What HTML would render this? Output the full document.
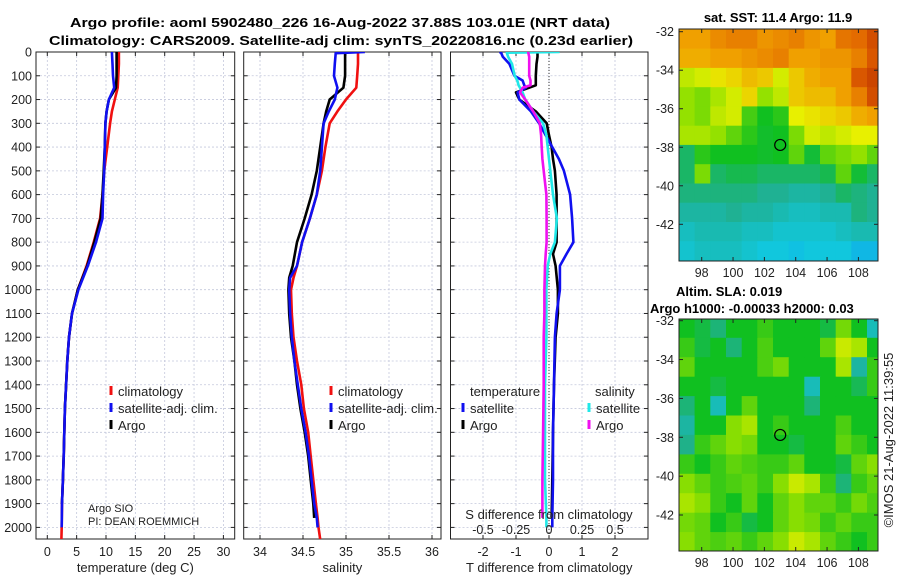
<!DOCTYPE html>
<html><head><meta charset="utf-8"><style>
html,body{margin:0;padding:0;background:#fff;}
svg{display:block;font-family:"Liberation Sans","DejaVu Sans",sans-serif;}
</style></head><body>
<svg id="fig" width="900" height="580" viewBox="0 0 900 580" xmlns="http://www.w3.org/2000/svg">
<defs>
<clipPath id="c1"><rect x="36" y="52" width="198" height="487"/></clipPath>
<clipPath id="c2"><rect x="244" y="52" width="197" height="487"/></clipPath>
<clipPath id="c3"><rect x="451" y="52" width="197" height="487"/></clipPath>
<clipPath id="cm1"><rect x="679" y="29" width="199" height="232"/></clipPath>
<clipPath id="cm2"><rect x="679" y="319" width="199" height="232"/></clipPath>
</defs>
<g>
<text x="340" y="27" font-size="13" font-weight="bold" text-anchor="middle" textLength="540" lengthAdjust="spacingAndGlyphs">Argo profile: aoml 5902480_226 16-Aug-2022 37.88S 103.01E (NRT data)</text>
<text x="341" y="45" font-size="13" font-weight="bold" text-anchor="middle" textLength="584" lengthAdjust="spacingAndGlyphs">Climatology: CARS2009. Satellite-adj clim: synTS_20220816.nc (0.23d earlier)</text>
</g>
<g id="layer"></g>
</svg>
<script>
// ---- data ----
const depthTicks = [0,100,200,300,400,500,600,700,800,900,1000,1100,1200,1300,1400,1500,1600,1700,1800,1900,2000];
const tempTicks = [0,5,10,15,20,25,30];
const salTicks = [34,34.5,35,35.5,36];
const salTickLabels = ["34","34.5","35","35.5","36"];
const tdiffTicks = [-2,-1,0,1,2];
const sdiffTicks = [-0.5,-0.25,0,0.25,0.5];
const sdiffTickLabels = ["-0.5","-0.25","0","0.25","0.5"];

const depthT = [0,50,100,150,200,250,300,400,500,600,700,800,900,1000,1100,1200,1300,1400,1500,1600,1700,1800,1900,2000,2050];
const climT = [12.2,12.2,12.1,12.0,11.5,11.0,10.7,10.2,9.7,9.4,9.0,7.9,6.7,5.2,4.2,3.7,3.4,3.2,3.0,2.9,2.8,2.65,2.5,2.45,2.4];
const satT  = [11.0,11.1,11.2,11.4,10.5,10.1,9.9,9.8,9.7,9.5,9.4,8.3,6.9,5.3,4.2,3.7,3.4,3.2,3.0,2.9,2.8,2.65,2.5,2.45];
const argoT = [11.8,11.8,11.8,11.7,10.5,10.1,9.9,9.8,9.6,9.4,9.1,8.0,6.8,5.2,4.2,3.7,3.4,3.2,3.0,2.9,2.8,2.65,2.5];

const depthS = [0,5,50,100,150,200,250,300,400,500,600,700,800,900,950,1000,1100,1200,1300,1400,1500,1600,1700,1800,1900,1960,2000,2050];
const climS = [35.14,35.14,35.14,35.13,35.12,35.0,34.9,34.81,34.76,34.72,34.66,34.58,34.49,34.43,34.39,34.36,34.37,34.39,34.43,34.48,34.51,34.56,34.59,34.62,34.65,34.67,34.68,34.7];
const satS  = [35.22,34.88,34.87,34.86,34.9,34.87,34.8,34.74,34.72,34.7,34.66,34.58,34.49,34.43,34.35,34.34,34.35,34.37,34.4,34.44,34.48,34.53,34.57,34.6,34.63,34.66,34.67];
const argoS = [34.99,34.99,34.99,34.99,34.97,34.81,34.77,34.74,34.70,34.66,34.60,34.52,34.43,34.38,34.34,34.33,34.34,34.36,34.40,34.43,34.47,34.52,34.56,34.59,34.62,34.63];

const depthD = [0,3,20,50,100,120,140,150,170,200,250,300,350,400,450,500,600,700,800,850,900,1000,1100,1200,1400,1600,1800,1960,2000];
const tdiffSat  = [-1.5,-1.45,-1.4,-1.2,-1.05,-0.8,-0.75,-0.7,-0.95,-0.9,-0.55,-0.3,-0.1,0.1,0.3,0.45,0.64,0.7,0.74,0.53,0.33,0.33,0.23,0.18,0.15,0.12,0.12,0.1,0.1];
const tdiffArgo = [-0.35,-0.35,-0.35,-0.38,-0.4,-0.4,-0.4,-0.6,-1.0,-0.9,-0.4,-0.07,0.0,0.08,0.12,0.18,0.23,0.23,0.23,0.12,0.2,0.27,0.27,0.2,0.15,0.12,0.1,0.08];
const sdiffSat  = [0.08,-0.32,-0.31,-0.28,-0.26,-0.24,-0.23,-0.22,-0.2,-0.18,-0.12,-0.045,-0.02,-0.01,0.0,0.01,0.03,0.06,0.045,0.01,-0.01,-0.02,-0.02,-0.02,-0.03,-0.03,-0.03,-0.02,-0.02];
const sdiffArgo = [-0.157,-0.157,-0.15,-0.15,-0.15,-0.14,-0.14,-0.2,-0.22,-0.18,-0.12,-0.07,-0.06,-0.055,-0.05,-0.04,-0.02,-0.018,-0.018,-0.025,-0.03,-0.035,-0.035,-0.04,-0.04,-0.045,-0.05,-0.05];

const mapLons = [97,98,99,100,101,102,103,104,105,106,107,108,109];
const mapLats = [-32,-33,-34,-35,-36,-37,-38,-39,-40,-41,-42,-43];
const sstGrid = [
[15.0,15.0,15.4,15.6,15.6,15.2,15.4,15.6,15.2,15.0,15.8,16.0,16.6],
[14.8,14.8,15.0,15.0,15.2,15.4,15.6,15.0,15.0,15.2,15.2,15.6,16.4],
[13.4,13.6,14.0,14.2,14.6,14.4,13.6,14.4,14.8,15.0,15.0,16.4,16.8],
[13.0,12.8,13.2,13.6,14.2,13.0,13.4,14.4,14.6,14.6,15.0,15.6,16.6],
[13.0,12.8,13.4,13.6,12.4,12.0,12.2,13.8,14.0,14.2,14.4,14.8,15.0],
[13.2,13.2,13.0,12.6,12.2,11.9,12.0,12.8,13.6,13.4,13.6,13.8,13.8],
[11.4,12.2,12.0,12.0,12.0,11.9,12.0,12.6,11.8,12.6,12.8,13.0,12.6],
[11.4,12.8,11.4,11.6,11.6,11.4,11.4,11.4,11.4,11.6,12.6,11.8,11.4],
[11.2,11.2,11.2,11.2,11.2,11.0,11.0,10.8,10.8,11.0,11.4,11.2,11.0],
[10.8,10.8,10.8,11.0,10.8,10.8,10.6,10.4,10.4,10.6,10.6,11.2,11.0],
[10.4,10.6,10.6,10.6,10.4,10.4,10.2,10.2,10.2,10.2,10.4,10.6,10.6],
[10.2,10.4,10.4,10.4,10.2,10.0,10.0,9.8,10.0,10.0,10.0,9.6,9.6]];
const slaGrid = [
[0,-0.02,-0.05,0,0,0.02,0,0,0,-0.02,0.05,0,-0.1],
[0.02,-0.02,0,-0.05,0,0.03,0,0,0,0.04,0.10,0.08,0],
[0.04,0,0,0,0,0.03,0.05,0,0,0,0.08,-0.08,0.02],
[0,0,-0.02,0,0,0,0,0,-0.1,0,0,-0.03,0.02],
[-0.05,0,-0.1,0,0.04,0,0,0,-0.05,0,0,0,0],
[-0.08,0,0,0.06,0.08,0,0.02,0,0,0,0.03,0,0],
[-0.06,0.02,0.04,0.06,0.05,0,0,-0.02,0,0,0.04,0.02,0],
[0.02,0,0.02,0.04,0.03,0.02,0.02,0.04,0,0,-0.02,0.04,0.06],
[0.06,0.04,0.02,0.03,0.04,0.02,0.06,0.10,0.08,0.02,-0.05,0.02,0.04],
[0.08,0.06,0.02,0.0,0.04,0,0.04,0.06,0.04,0.04,0.02,0.05,0.03],
[0.05,0.04,0.0,0.02,-0.02,0,0.04,0.06,0.05,0.02,0.04,0.02,0.02],
[0.06,0.04,0.03,0.04,0.02,0.04,0.06,0.10,0.08,0.04,0.02,0,0.02]];
const mapLonTicks = [98,100,102,104,106,108];
const mapLatTicks = [-32,-34,-36,-38,-40,-42];
const argoPos = [103.01,-37.88];

// ---- scales ----
const Y = d => 52 + d*0.2377;
const XT = v => 47.3 + v*5.87;
const XS = v => 260 + (v-34)*86;
const XD = v => 549 + v*33;
const XSD = v => 549 + v*132;
const M1X = lon => 701.7 + (lon-98)*15.67;
const M1Y = lat => 31.7 + (-32-lat)*19.26;
const M2Y = lat => 320.7 + (-32-lat)*19.43;

const NS = "http://www.w3.org/2000/svg";
const layer = document.getElementById('layer');
function mk(tag, attrs, parent){ const e=document.createElementNS(NS,tag); for(const k in attrs) e.setAttribute(k,attrs[k]); (parent||layer).appendChild(e); return e; }
function txt(x,y,s,size,anchor,parent){ const t=mk('text',{x:x,y:y,'font-size':size,'text-anchor':anchor||'middle',fill:'#222'},parent); t.textContent=s; return t; }

const stops=[[0,[0,48,192]],[0.2,[16,128,240]],[0.33,[16,200,224]],[0.42,[32,176,144]],[0.5,[16,192,32]],[0.58,[144,224,0]],[0.65,[232,240,0]],[0.75,[240,160,0]],[0.85,[224,96,0]],[1,[160,16,0]]];
function cmap(t){ t=Math.max(0,Math.min(1,t)); for(let i=1;i<stops.length;i++){ if(t<=stops[i][0]){ const a=stops[i-1],b=stops[i],f=(t-a[0])/(b[0]-a[0]); const c=a[1].map((v,j)=>Math.round(v+(b[1][j]-v)*f)); return 'rgb('+c.join(',')+')'; } } return 'rgb(160,16,0)'; }

function panel(name, x0, x1, clip, xticks, xlabels, xfn, xtitle){
  const g = mk('g',{});
  
  
  const grid = mk('g',{stroke:'#c4c8dc','stroke-width':0.8,'stroke-dasharray':'2,2'},g);
  
  
  depthTicks.forEach(d=>{ mk('line',{x1:x0,x2:x1,y1:Y(d),y2:Y(d)},grid); });
  xticks.forEach(v=>{ mk('line',{x1:xfn(v),x2:xfn(v),y1:52,y2:539},grid); });
  const ax = mk('g',{stroke:'#222','stroke-width':1},g);
  
  
  depthTicks.forEach(d=>{ mk('line',{x1:x0,x2:x0+4,y1:Y(d),y2:Y(d)},ax); mk('line',{x1:x1-4,x2:x1,y1:Y(d),y2:Y(d)},ax); });
  xticks.forEach(v=>{ mk('line',{x1:xfn(v),x2:xfn(v),y1:539,y2:535},ax); mk('line',{x1:xfn(v),x2:xfn(v),y1:52,y2:56},ax); });
  mk('rect',{x:x0,y:52,width:x1-x0,height:487,fill:'none'},ax);
  if(xlabels){ const tl=mk('g',{},g);  
    xticks.forEach((v,i)=>txt(xfn(v),556,xlabels[i],12.5,'middle',tl)); }
  if(xtitle){ const t=txt((x0+x1)/2,572,xtitle,13,'middle',g);   }
  const lines = mk('g',{'clip-path':'url(#'+clip+')',fill:'none','stroke-width':2.6,'stroke-linejoin':'round'},g);
  return lines;
}
function series(parent, name, depths, vals, xfn, color, w){
  const pts = vals.map((v,i)=>xfn(v).toFixed(1)+','+Y(depths[i]).toFixed(1)).join(' ');
  const p = mk('polyline',{points:pts,stroke:color,fill:'none','stroke-width':w||2.6},parent);
  
  
}
function legend(x, y, label, color, parent, nm){
  const g=mk('g',{},parent);
  
  
  mk('line',{x1:x,x2:x,y1:y-10,y2:y-1,stroke:color,'stroke-width':3},g);
  txt(x+7,y,label,13,'start',g);
}

// y-axis labels
const yl = mk('g',{});


depthTicks.forEach(d=>txt(32,Y(d)+4.5,String(d),12.5,'end',yl));

// Panel 1 temperature
const p1 = panel('temperature-panel',36,234.7,'c1',tempTicks,tempTicks.map(String),XT,'temperature (deg C)');
series(p1,'temp-climatology-line',depthT,climT,XT,'#f01010');
series(p1,'temp-argo-line',depthT,argoT,XT,'#000');
series(p1,'temp-satellite-line',depthT,satT,XT,'#1010f0');
legend(111,396,'climatology','#f01010',layer,'legend-climatology');
legend(111,413,'satellite-adj. clim.','#1010f0',layer,'legend-satellite-adj');
legend(111,430,'Argo','#000',layer,'legend-argo');
const pi = mk('g',{});  
txt(88,512,'Argo SIO',11,'start',pi); txt(88,525,'PI: DEAN ROEMMICH',11,'start',pi);

// Panel 2 salinity
const p2 = panel('salinity-panel',243.7,441,'c2',salTicks,salTickLabels,XS,'salinity');
series(p2,'sal-climatology-line',depthS,climS,XS,'#f01010');
series(p2,'sal-argo-line',depthS,argoS,XS,'#000');
series(p2,'sal-satellite-line',depthS,satS,XS,'#1010f0');
legend(331,396,'climatology','#f01010',layer,'legend2-climatology');
legend(331,413,'satellite-adj. clim.','#1010f0',layer,'legend2-satellite-adj');
legend(331,430,'Argo','#000',layer,'legend2-argo');

// Panel 3 differences
const p3 = panel('difference-panel',450.5,648,'c3',tdiffTicks,tdiffTicks.map(String),XD,'T difference from climatology');
const zl = mk('line',{x1:XD(0),x2:XD(0),y1:52,y2:539,stroke:'#333','stroke-width':1,'stroke-dasharray':'1,2'},p3);
 
series(p3,'tdiff-argo-line',depthD,tdiffArgo,XD,'#000');
series(p3,'tdiff-satellite-line',depthD,tdiffSat,XD,'#1010f0');
series(p3,'sdiff-satellite-line',depthD,sdiffSat,XSD,'#20e8e8');
series(p3,'sdiff-argo-line',depthD,sdiffArgo,XSD,'#f010f0');
const l3=mk('g',{});  
txt(470,396,'temperature',13,'start',l3);
txt(595,396,'salinity',13,'start',l3);
legend(463,413,'satellite','#1010f0',l3,'legend3-temp-satellite');
legend(463,430,'Argo','#000',l3,'legend3-temp-argo');
legend(589,413,'satellite','#20e8e8',l3,'legend3-sal-satellite');
legend(589,430,'Argo','#f010f0',l3,'legend3-sal-argo');
const st = txt(549,519,'S difference from climatology',13,'middle');
 
const sdl = mk('g',{});  
sdiffTicks.forEach((v,i)=>txt(XSD(v),534,sdiffTickLabels[i],12.5,'middle',sdl));

// Maps
function map(name, grid, lo, hi, yfn, clip, top, title){
  const g = mk('g',{});
  
  
  const cells = mk('g',{'clip-path':'url(#'+clip+')'},g);
  grid.forEach((row,r)=>row.forEach((v,c)=>{
    const x0=M1X(mapLons[c]-0.45), x1=M1X(mapLons[c]+0.55);
    const y0=yfn(mapLats[r]+0.12), y1=yfn(mapLats[r]-0.88);
    const rc = mk('rect',{x:x0.toFixed(1),y:y0.toFixed(1),width:(x1-x0+0.6).toFixed(1),height:(y1-y0+0.6).toFixed(1),fill:cmap((v-lo)/(hi-lo))},cells);
    
    
  }));
  const ax = mk('g',{stroke:'#222','stroke-width':1},g);
  mk('rect',{x:679,y:top,width:199,height:232,fill:'none'},ax);
  mapLonTicks.forEach(l=>{ mk('line',{x1:M1X(l),x2:M1X(l),y1:top+232,y2:top+228},ax); mk('line',{x1:M1X(l),x2:M1X(l),y1:top,y2:top+4},ax); txt(M1X(l),top+248,String(l),12.5,'middle',g); });
  mapLatTicks.forEach(l=>{ mk('line',{x1:679,x2:683,y1:yfn(l),y2:yfn(l)},ax); mk('line',{x1:874,x2:878,y1:yfn(l),y2:yfn(l)},ax); txt(674,yfn(l)+4.5,String(l),12.5,'end',g); });
  const c = mk('circle',{cx:M1X(argoPos[0]),cy:yfn(argoPos[1]),r:5.5,fill:'none',stroke:'#000','stroke-width':1.2},g);
  
  
}
map('sst-map',sstGrid,6,18,M1Y,'cm1',29);
map('sla-map',slaGrid,-0.4,0.4,M2Y,'cm2',319);
const t1 = mk('text',{x:778,y:22,'font-size':13,'font-weight':'bold','text-anchor':'middle'});
t1.textContent='sat. SST: 11.4 Argo: 11.9';
 
const t2 = mk('text',{x:676,y:296,'font-size':13,'font-weight':'bold','text-anchor':'start'});
t2.textContent='Altim. SLA: 0.019';
 
const t3 = mk('text',{x:650,y:313,'font-size':13,'font-weight':'bold','text-anchor':'start'});
t3.textContent='Argo h1000: -0.00033 h2000: 0.03';
 
const cr = mk('text',{x:0,y:0,'font-size':13,'text-anchor':'middle',fill:'#222',transform:'translate(893,440) rotate(-90)'});
cr.textContent='©IMOS 21-Aug-2022 11:39:55';
 
</script>
</body></html>
